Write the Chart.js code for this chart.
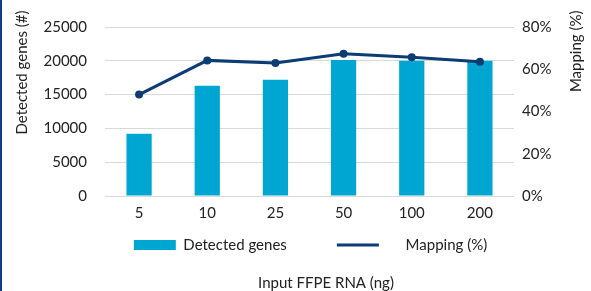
<!DOCTYPE html>
<html>
<head>
<meta charset="utf-8">
<script src="https://cdn.jsdelivr.net/npm/chart.js@4"></script>
<style>
  html, body { margin: 0; padding: 0; background: #fff; }
  #wrap { position: relative; width: 591px; height: 291px; overflow: hidden; }
  #frame { position: absolute; left: 0; top: 0; width: 2px; height: 291px; background: #0b3d8a; }
  canvas { display: block; }
</style>
</head>
<body>
<div id="wrap">
  <canvas id="c" width="591" height="291"></canvas>
  <div id="frame"></div>
</div>
<script>
// ---- data ----
const categories = ['5', '10', '25', '50', '100', '200'];
const detectedGenes = [9200, 16300, 17200, 20100, 20000, 20000];
const mappingPct = [48, 64.2, 63, 67.3, 65.7, 63.5];
const leftTicks = [0, 5000, 10000, 15000, 20000, 25000];
const rightTicks = [0, 20, 40, 60, 80];
const seriesNames = ['Detected genes', 'Mapping (%)'];
const axisTitles = { left: 'Detected genes (#)', right: 'Mapping (%)', bottom: 'Input FFPE RNA (ng)' };

const BAR = '#00a6d2';
const LINE = '#0b3c73';
const TXT = '#222222';
const FONT = 'Lato';

const titlesPlugin = {
  id: 'axisTitles',
  afterDraw(chart) {
    const ctx = chart.ctx;
    ctx.save();
    ctx.fillStyle = TXT;
    ctx.font = '15px ' + FONT;
    ctx.textBaseline = 'alphabetic';
    // left
    ctx.save();
    ctx.translate(27, 10.5);
    ctx.rotate(-Math.PI / 2);
    ctx.textAlign = 'right';
    ctx.fillText(axisTitles.left, 0, 0);
    ctx.restore();
    // right
    ctx.save();
    ctx.translate(580.5, 10.5);
    ctx.rotate(-Math.PI / 2);
    ctx.textAlign = 'right';
    ctx.fillText(axisTitles.right, 0, 0);
    ctx.restore();
    // bottom
    ctx.textAlign = 'center';
    ctx.fillText(axisTitles.bottom, 326, 287.5);
    ctx.restore();
  }
};

new Chart(document.getElementById('c'), {
  data: {
    labels: categories,
    datasets: [
      {
        type: 'bar',
        label: seriesNames[0],
        data: detectedGenes,
        backgroundColor: BAR,
        borderWidth: 0,
        yAxisID: 'y',
        order: 1,
        categoryPercentage: 1,
        barPercentage: 0.37
      },
      {
        type: 'line',
        label: seriesNames[1],
        data: mappingPct,
        borderColor: LINE,
        backgroundColor: LINE,
        borderWidth: 3,
        pointRadius: 4,
        pointBackgroundColor: LINE,
        pointBorderColor: LINE,
        pointBorderWidth: 0,
        tension: 0,
        yAxisID: 'y1',
        order: 0
      }
    ]
  },
  options: {
    responsive: false,
    animation: false,
    events: [],
    layout: { padding: { top: 17, bottom: 28.5, left: 30, right: 0 } },
    scales: {
      x: {
        grid: { display: false, drawTicks: false },
        border: { display: false },
        ticks: { color: TXT, font: { family: FONT, size: 15 }, padding: 8, maxRotation: 0, autoSkip: false },
        afterFit(s) { s.height = 26; }
      },
      y: {
        position: 'left',
        min: 0, max: 25000,
        afterBuildTicks(s) { s.ticks = leftTicks.map(v => ({ value: v })); },
        grid: { color: '#d9d9d9', lineWidth: 1, drawTicks: false },
        border: { display: false },
        ticks: { color: TXT, font: { family: FONT, size: 15 }, padding: 18, callback: v => String(v) },
        afterFit(s) { s.width = 75; }
      },
      y1: {
        position: 'right',
        min: 0, max: 80,
        afterBuildTicks(s) { s.ticks = rightTicks.map(v => ({ value: v })); },
        grid: { display: false, drawTicks: false },
        border: { display: false },
        ticks: { color: TXT, font: { family: FONT, size: 15 }, padding: 8, callback: v => v + '%' },
        afterFit(s) { s.width = 77; }
      }
    },
    plugins: {
      tooltip: { enabled: false },
      title: { display: false },
      legend: {
        position: 'bottom',
        fullSize: true,
        labels: {
          usePointStyle: true,
          pointStyleWidth: 42,
          boxHeight: 10,
          padding: 15.5,
          color: TXT,
          font: { family: FONT, size: 15 },
          generateLabels() {
            return [
              { text: seriesNames[0] + '         ', pointStyle: 'rect', fillStyle: BAR, strokeStyle: BAR, lineWidth: 0, datasetIndex: 0, hidden: false, fontColor: TXT },
              { text: '     ' + seriesNames[1], pointStyle: 'line', fillStyle: LINE, strokeStyle: LINE, lineWidth: 3, datasetIndex: 1, hidden: false, fontColor: TXT }
            ];
          }
        }
      }
    }
  },
  plugins: [titlesPlugin]
});
</script>
</body>
</html>
